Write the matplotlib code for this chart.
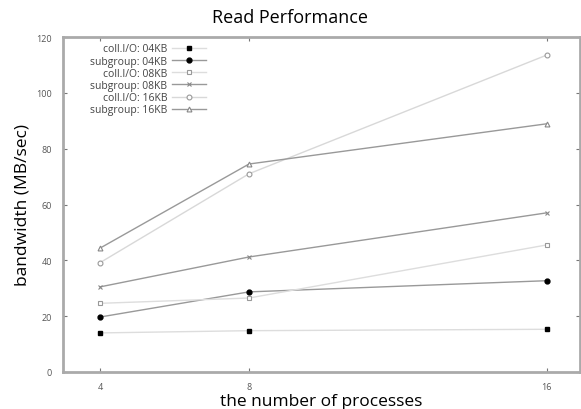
import matplotlib
matplotlib.use("Agg")
import matplotlib.pyplot as plt

procs = [4, 8, 16]
series_names = ["coll.I/O: 04KB", "subgroup: 04KB", "coll.I/O: 08KB",
                "subgroup: 08KB", "coll.I/O: 16KB", "subgroup: 16KB"]
coll_04 = [14.0, 14.8, 15.3]
sub_04 = [19.7, 28.7, 32.7]
coll_08 = [24.6, 26.5, 45.5]
sub_08 = [30.5, 41.2, 57.0]
coll_16 = [39.2, 71.0, 113.5]
sub_16 = [44.4, 74.5, 88.9]
yticks = [0, 20, 40, 60, 80, 100, 120]

values = [coll_04, sub_04, coll_08, sub_08, coll_16, sub_16]
styles = [
    dict(color="#dddddd", marker="s", mfc="black", mec="black", ms=3.5),
    dict(color="#999999", marker="o", mfc="black", mec="black", ms=3.5),
    dict(color="#dddddd", marker="s", mfc="white", mec="#999999", ms=3.5, mew=0.8),
    dict(color="#999999", marker="x", mec="#888888", ms=3.5, mew=0.8),
    dict(color="#d8d8d8", marker="o", mfc="white", mec="#999999", ms=3.5, mew=0.8),
    dict(color="#999999", marker="^", mfc="white", mec="#888888", ms=3.5, mew=0.8),
]

plt.rcParams['font.family'] = ['Open Sans', 'DejaVu Sans']
fig = plt.figure(figsize=(5.81, 4.10), dpi=100)
ax = fig.add_axes([63/581, 1-373/410, (580-63)/581, (373-38)/410])

for name, vals, st in zip(series_names, values, styles):
    ax.plot(procs, vals, lw=1.0, label=name, **st)

ax.set_xlim(3.0, 16.9)
ax.set_ylim(0, 120)
ax.set_xticks(procs)
ax.set_yticks(yticks)
ax.tick_params(direction="in", length=3, width=0.8, colors="#777777",
               labelsize=6.5, top=True, right=True, pad=8)
ax.tick_params(axis="x", pad=7)
for lab in ax.get_xticklabels() + ax.get_yticklabels():
    lab.set_color("#555555")
for sp in ax.spines.values():
    sp.set_color("#aaaaaa")
    sp.set_linewidth(2)

ax.set_xlabel("the number of processes", fontsize=12.5, va="center")
ax.xaxis.set_label_coords(0.5, -(402-373)/335)
ax.set_ylabel("bandwidth (MB/sec)", fontsize=12.5, labelpad=4)
fig.text(0.5, 1-18/410, "Read Performance", ha="center", va="center", fontsize=13)

leg = ax.legend(loc="upper left", bbox_to_anchor=(0.04, 1.0), frameon=False,
                markerfirst=False, fontsize=7.5, labelspacing=0.12,
                handlelength=3.2, handletextpad=0.5, borderaxespad=0.2)
for t in leg.get_texts():
    t.set_ha("right")
    t.set_color("#444444")
leg._legend_box.align = "right"

fig.savefig("out.png", dpi=100)
